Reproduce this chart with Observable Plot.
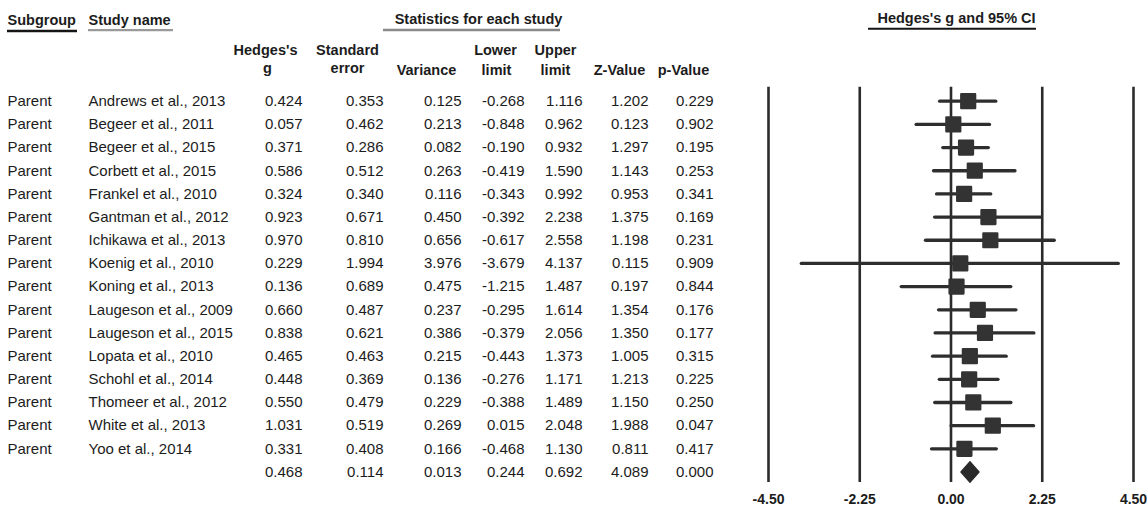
<!DOCTYPE html>
<html>
<head>
<meta charset="utf-8">
<script src="https://cdn.jsdelivr.net/npm/d3@7"></script>
<script src="https://cdn.jsdelivr.net/npm/@observablehq/plot@0.6"></script>
<style>
  html, body { margin: 0; padding: 0; background: #fff; }
  #wrap { position: relative; width: 1147px; height: 508px; overflow: hidden; }
  #wrap svg { position: absolute; left: 0; top: 0; }
</style>
</head>
<body>
<div id="wrap"></div>
<script>
// ---------- data ----------
const subgroups = Array(16).fill("Parent");
const studies = [
  "Andrews et al., 2013", "Begeer et al., 2011", "Begeer et al., 2015", "Corbett et al., 2015",
  "Frankel et al., 2010", "Gantman et al., 2012", "Ichikawa et al., 2013", "Koenig et al., 2010",
  "Koning et al., 2013", "Laugeson et al., 2009", "Laugeson et al., 2015", "Lopata et al., 2010",
  "Schohl et al., 2014", "Thomeer et al., 2012", "White et al., 2013", "Yoo et al., 2014"
];
const hedgesG  = [0.424, 0.057, 0.371, 0.586, 0.324, 0.923, 0.970, 0.229, 0.136, 0.660, 0.838, 0.465, 0.448, 0.550, 1.031, 0.331];
const stdError = [0.353, 0.462, 0.286, 0.512, 0.340, 0.671, 0.810, 1.994, 0.689, 0.487, 0.621, 0.463, 0.369, 0.479, 0.519, 0.408];
const variance = [0.125, 0.213, 0.082, 0.263, 0.116, 0.450, 0.656, 3.976, 0.475, 0.237, 0.386, 0.215, 0.136, 0.229, 0.269, 0.166];
const lowerLim = [-0.268, -0.848, -0.190, -0.419, -0.343, -0.392, -0.617, -3.679, -1.215, -0.295, -0.379, -0.443, -0.276, -0.388, 0.015, -0.468];
const upperLim = [1.116, 0.962, 0.932, 1.590, 0.992, 2.238, 2.558, 4.137, 1.487, 1.614, 2.056, 1.373, 1.171, 1.489, 2.048, 1.130];
const zValue   = [1.202, 0.123, 1.297, 1.143, 0.953, 1.375, 1.198, 0.115, 0.197, 1.354, 1.350, 1.005, 1.213, 1.150, 1.988, 0.811];
const pValue   = [0.229, 0.902, 0.195, 0.253, 0.341, 0.169, 0.231, 0.909, 0.844, 0.176, 0.177, 0.315, 0.225, 0.250, 0.047, 0.417];
// summary (pooled) row
const summary = {g: 0.468, se: 0.114, v: 0.013, lo: 0.244, hi: 0.692, z: 4.089, p: 0.000};
const xTicks = [-4.5, -2.25, 0, 2.25, 4.5];
const xTickLabels = ["-4.50", "-2.25", "0.00", "2.25", "4.50"];

// ---------- layout (not data) ----------
const W = 1147, H = 508;
const FONT = "'Liberation Sans', Arial, Helvetica, sans-serif";
const INK = "#1c1c1c";
const rowScale = {domain: [0, 16], range: [100.7, 471.5]};
const col = {sub: 7, study: 88, g: 302, se: 383, v: 461, lo: 524, hi: 582, z: 648, p: 713};
const hdr = {title: -3.48, line1: -2.19, line2: -1.32, ul: -3.07};

const rows = studies.map((s, i) => ({
  i, sub: subgroups[i], study: s, g: hedgesG[i], se: stdError[i], v: variance[i],
  lo: lowerLim[i], hi: upperLim[i], z: zValue[i], p: pValue[i]
}));
const allRows = rows.concat([{i: 16, sub: "", study: "", g: summary.g, se: summary.se, v: summary.v,
  lo: summary.lo, hi: summary.hi, z: summary.z, p: summary.p}]);
const f3 = v => v.toFixed(3);

// header texts
const headersLeft = [
  {t: "Subgroup", x: col.sub, y: hdr.title},
  {t: "Study name", x: col.study, y: hdr.title}
];
const headersMid = [
  {t: "Statistics for each study", x: 478, y: hdr.title - 0.04},
  {t: "Hedges's g and 95% CI", x: 956, y: hdr.title - 0.09},
  {t: "Hedges's", x: 265, y: hdr.line1},
  {t: "g", x: 267, y: hdr.line2 - 0.1},
  {t: "Standard", x: 347, y: hdr.line1},
  {t: "error", x: 347, y: hdr.line2 - 0.1},
  {t: "Variance", x: 426, y: hdr.line2},
  {t: "Lower", x: 495, y: hdr.line1},
  {t: "limit", x: 496, y: hdr.line2},
  {t: "Upper", x: 555, y: hdr.line1},
  {t: "limit", x: 555, y: hdr.line2},
  {t: "Z-Value", x: 619, y: hdr.line2},
  {t: "p-Value", x: 683, y: hdr.line2}
];
const underlines = [
  {x1: 7, x2: 77, y: hdr.ul + 0.04, c: "#151515", w: 2.6},
  {x1: 88, x2: 173, y: hdr.ul, c: "#9a9a9a", w: 2.2},
  {x1: 383, x2: 560, y: hdr.ul, c: "#8a8a8a", w: 2.4},
  {x1: 868, x2: 1036, y: hdr.ul - 0.06, c: "#151515", w: 2}
];

const numCols = [["g", col.g], ["se", col.se], ["v", col.v], ["lo", col.lo], ["hi", col.hi], ["z", col.z], ["p", col.p]];
const hdrStyle = {fontWeight: "bold", fontSize: 14.5, fill: INK};

// ---------- table layer ----------
const table = Plot.plot({
  width: W, height: H, margin: 0,
  style: {background: "transparent", fontFamily: FONT, overflow: "visible"},
  x: {type: "linear", domain: [0, W], range: [0, W], axis: null},
  y: {...rowScale, axis: null},
  marks: [
    Plot.ruleY(underlines, {x1: "x1", x2: "x2", y: "y", stroke: "c", strokeWidth: "w"}),
    Plot.text(headersLeft, {x: "x", y: "y", text: "t", textAnchor: "start", ...hdrStyle}),
    Plot.text(headersMid, {x: "x", y: "y", text: "t", textAnchor: "middle", ...hdrStyle}),
    Plot.text(rows, {x: () => col.sub, y: "i", text: "sub", textAnchor: "start", fontSize: 15, fill: INK}),
    Plot.text(rows, {x: () => col.study, y: "i", text: "study", textAnchor: "start", fontSize: 15, fill: INK}),
    ...numCols.map(([k, cx]) => Plot.text(allRows, {x: () => cx, y: "i", text: d => f3(d[k]), textAnchor: "end", fontSize: 15, fill: INK}))
  ]
});

// ---------- forest layer ----------
const diamond = [
  {x: summary.lo, y: 16}, {x: summary.g, y: 16 - 0.45}, {x: summary.hi, y: 16},
  {x: summary.g, y: 16 + 0.45}, {x: summary.lo, y: 16}
];
const forest = Plot.plot({
  width: W, height: H, margin: 0, marginBottom: 18,
  style: {background: "transparent", fontFamily: FONT, overflow: "visible"},
  x: {domain: [-4.5, 4.5], range: [768, 1133], axis: null},
  y: {...rowScale, axis: null},
  marks: [
    Plot.ruleX(xTicks, {y1: -0.6, y2: 16.45, stroke: "#2b2b2b", strokeWidth: 2.6}),
    Plot.ruleY(rows, {y: "i", x1: "lo", x2: "hi", stroke: "#2e2e2e", strokeWidth: 3.3, strokeLinecap: "round"}),
    Plot.dot(rows, {x: "g", y: "i", symbol: "square", r: 7.9, fill: "#333", stroke: "#333", strokeWidth: 2.2, strokeLinejoin: "round"}),
    Plot.line(diamond, {x: "x", y: "y", fill: "#2a2a2a", stroke: "#2a2a2a", strokeWidth: 1.2, strokeLinejoin: "round"}),
    Plot.axisX({ticks: xTicks, tickFormat: d => xTickLabels[xTicks.indexOf(d)], tickSize: 0, tickPadding: 4,
      fontWeight: "bold", fontSize: 14, fill: INK})
  ]
});

const wrap = document.getElementById("wrap");
wrap.appendChild(table);
wrap.appendChild(forest);
</script>
</body>
</html>
